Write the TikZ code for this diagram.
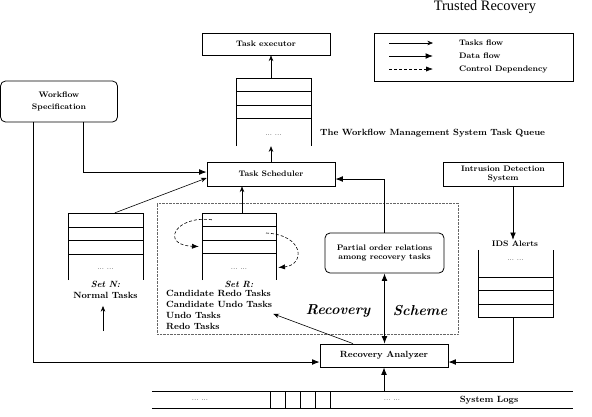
\documentclass[tikz,border=0pt]{standalone}
\usepackage{fontspec}
\newfontfamily\hdrfont{Liberation Serif}
\usetikzlibrary{arrows.meta,positioning}
\tikzset{
  box/.style={draw,thick,font=\footnotesize\bfseries,inner sep=2pt,align=center},
  rbox/.style={box,rounded corners=5pt},
  queue/.style={inner sep=0pt},
  qline/.style={semithick},
  lbl/.style={font=\footnotesize\bfseries,align=center,inner sep=1pt},
  biglbl/.style={lbl,font=\small\bfseries},
  dots/.style={font=\scriptsize,inner sep=0pt},
  tflow/.style={-{Stealth[length=2mm,width=1.6mm]},semithick},
  dflow/.style={-{Latex[length=2.6mm,width=2mm]},thick},
  cdep/.style={-{Latex[length=2.4mm,width=1.8mm]},semithick,dash pattern=on 3pt off 2pt},
  zone/.style={draw=black!60,densely dotted},
  scheme/.style={font=\Large\bfseries\itshape},
}
\newcommand{\dd}{...\ ...}

\begin{document}
\begin{tikzpicture}[x=1pt,y=-1pt]
\useasboundingbox (0,0) rectangle (592,416);
% page header
\node[font=\hdrfont\Large,anchor=base] (hdr) at (485,10) {Trusted Recovery};
% executor and legend
\node[box,minimum width=128,minimum height=22] (exec) at (266,44) {Task executor};
\node[box,minimum width=199,minimum height=48] (legend) at (473.5,57) {};
\foreach \y/\st/\t in {43/tflow/Tasks flow,56/dflow/Data flow,69/cdep/Control Dependency}{
  \coordinate (ls\y) at (389,\y);
  \coordinate (le\y) at (433,\y);
  \draw[\st] (ls\y) -- (le\y);
  \node[lbl,anchor=west] at (458,\y) {\t};
}
% the task queue
\node[queue,minimum width=75,minimum height=68] (tq) at (273.5,112) {};
\draw[qline] (tq.south west) |- (tq.north east) -- (tq.south east);
\foreach \y in {91,105,118} \draw[qline] (236,\y) -- (311,\y);
\node[dots] at (273.5,135) {\dd};
\node[biglbl,anchor=west] (tqlbl) at (319,133) {The Workflow Management System Task Queue};
% scheduler and specification
\node[box,minimum width=128,minimum height=24] (sched) at (271,174) {Task Scheduler};
\node[rbox,minimum width=117,minimum height=41] (spec) at (59,101.5) {Workflow\\[3pt]Specification};
\node[box,minimum width=120,minimum height=24,inner sep=1pt] (ids) at (503,174) {Intrusion Detection\\System};
% set N
\node[queue,minimum width=75,minimum height=67] (setn) at (105.5,246.5) {};
\draw[qline] (setn.south west) |- (setn.north east) -- (setn.south east);
\foreach \y in {227,240,254} \draw[qline] (68,\y) -- (143,\y);
\node[dots] at (105.5,269) {\dd};
\node[biglbl,below=0pt of setn] (setnlbl) {\textit{Set N:}\\Normal Tasks};
\coordinate (nin) at (103,331);
% set R
\node[queue,minimum width=74,minimum height=67] (setr) at (239,246.5) {};
\draw[qline] (setr.south west) |- (setr.north east) -- (setr.south east);
\foreach \y in {226,240,253} \draw[qline] (202,\y) -- (276,\y);
\node[dots] at (239,269) {\dd};
\node[biglbl,below=0pt of setr] (setrhd) {\textit{Set R:}};
\node[biglbl,align=left,anchor=north west] (setrlist) at (165,289) {Candidate Redo Tasks\\Candidate Undo Tasks\\Undo Tasks\\Redo Tasks};
% recovery scheme
\node[zone,minimum width=301,minimum height=131] (scheme) at (307.5,268.5) {};
\node[rbox,minimum width=119,minimum height=40] (porder) at (384.5,253) {Partial order relations\\among recovery tasks};
\node[scheme] (rlbl) at (338,311) {Recovery};
\node[scheme] (slbl) at (420,311) {Scheme};
\node[box,font=\small\bfseries,minimum width=128,minimum height=23] (ranal) at (384,355.5) {Recovery Analyzer};
% IDS alerts
\node[lbl] (idsal) at (515,244) {IDS Alerts};
\node[queue,minimum width=75,minimum height=67] (alq) at (515.5,283.5) {};
\draw[qline] (alq.north west) |- (alq.south east) -- (alq.north east);
\foreach \y in {277,290,304} \draw[qline] (478,\y) -- (553,\y);
\node[dots] at (515.5,260) {\dd};
% system logs
\node[queue,minimum width=421,minimum height=17] (logs) at (362.5,399.5) {};
\draw[qline] (logs.north west) -- (logs.north east) (logs.south west) -- (logs.south east);
\foreach \x in {270,285,300,315,330} \draw[qline] (\x,391) -- (\x,408);
\node[dots] at (200,400) {\dd};
\node[dots] at (392,400) {\dd};
\node[biglbl] (loglbl) at (489,400) {System Logs};
% connectors
\draw[tflow] (sched.north) -- (sched.north |- tq.south);
\draw[tflow] (sched.north |- tq.north) -- (sched.north |- exec.south);
\draw[dflow] ([xshift=24]spec.south) |- ([yshift=2]sched.west);
\draw[dflow] ([xshift=-26]spec.south) |- ([yshift=-6.5]ranal.west);
\draw[tflow] ([xshift=9.5]setn.north) -- ([yshift=-4]sched.west);
\draw[tflow] ([xshift=3]setr.north) -- ([xshift=3]setr.north |- sched.south);
\draw[tflow] (nin) -- ([yshift=-6]nin |- setnlbl.south);
\draw[dflow] (porder.north) |- ([yshift=-5]sched.east);
\draw[dflow,{Latex[length=2.6mm,width=2mm]}-{Latex[length=2.6mm,width=2mm]}] (porder.south) -- (porder.south |- ranal.north);
\draw[dflow] (ranal.south |- logs.north) -- (ranal.south);
\draw[dflow] ([xshift=10]ids.south) -- ([xshift=10]ids.south |- idsal.north);
\draw[dflow] ([xshift=-2.5]alq.south) |- ([yshift=-6.5]ranal.east);
\draw[tflow] ([xshift=-31]ranal.north) -- ([yshift=-4]setrlist.east);
\draw[cdep] ([xshift=10,yshift=-7]setr.north west) .. controls (175,215) and (160,245) .. ([xshift=-3]setr.west);
\draw[cdep] (266,233) .. controls (305,235) and (305,265) .. ([xshift=2,yshift=-21]setr.east);
\end{tikzpicture}
\end{document}
